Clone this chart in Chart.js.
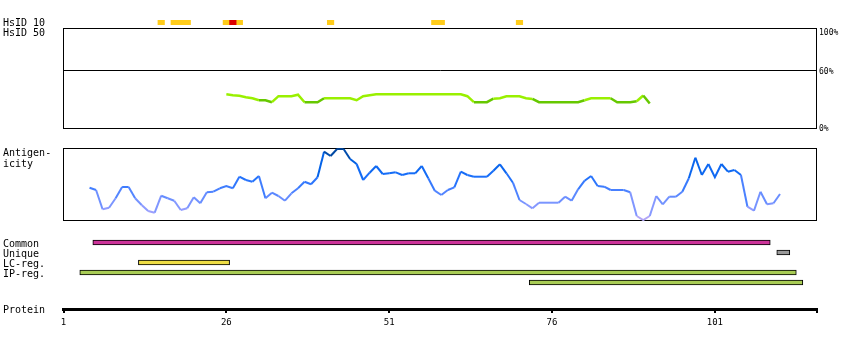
<!DOCTYPE html>
<html><head><meta charset="utf-8">
<script src="https://cdn.jsdelivr.net/npm/chart.js@4.4.1/dist/chart.umd.min.js"></script>
<style>
html,body{margin:0;padding:0;background:#fff;}
body{width:850px;height:350px;overflow:hidden;position:relative;font-family:"DejaVu Sans Mono",monospace;}
canvas{position:absolute;left:0;top:0;}
.lbl{position:absolute;font-size:10px;line-height:10px;color:#000;white-space:pre;}
.rl{position:absolute;font-size:8px;line-height:8px;color:#000;white-space:pre;}
</style></head><body>
<canvas id="cBlocks" width="850" height="350"></canvas>
<canvas id="cIdent" width="850" height="350"></canvas>
<canvas id="cAnti" width="850" height="350"></canvas>
<canvas id="cFeat" width="850" height="350"></canvas>
<canvas id="cAxis" width="850" height="350"></canvas>
<div class="lbl" style="left:3px;top:18px">HsID 10</div>
<div class="lbl" style="left:3px;top:28px">HsID 50</div>
<div class="lbl" style="left:3px;top:148px">Antigen-</div>
<div class="lbl" style="left:3px;top:159px">icity</div>
<div class="lbl" style="left:3px;top:238.5px">Common</div>
<div class="lbl" style="left:3px;top:248.5px">Unique</div>
<div class="lbl" style="left:3px;top:258.5px">LC-reg.</div>
<div class="lbl" style="left:3px;top:268.5px">IP-reg.</div>
<div class="lbl" style="left:3px;top:305px">Protein</div>
<div class="rl" style="left:819px;top:29px">100%</div>
<div class="rl" style="left:819px;top:67.5px">60%</div>
<div class="rl" style="left:819px;top:125px">0%</div>
<script>
// ---------- data ----------
const residueMin = 1;
const residueMax = 116.6;
const axisTickValues = [1, 26, 51, 76, 101, 116.6];
const axisTickLabels = ['1', '26', '51', '76', '101', ''];

// HsID 10 hits (residue ranges, inclusive)
const hsidYellowRanges = [[16,16],[18,20],[26,28],[42,42],[58,59],[71,71]];
const hsidRedRanges = [[27,27]];

// HsID 50 identity (%) per residue, starting at residue 26
const identityStart = 26;
const identityValues = [
  34.3,33.3,32.8,31.3,30.3,28.3,28.3,26.3,32.3,32.3,
  32.3,33.8,26.3,26.3,26.3,30.3,30.3,30.3,30.3,30.3,
  28.3,32.3,33.3,34.3,34.3,34.3,34.3,34.3,34.3,34.3,
  34.3,34.3,34.3,34.3,34.3,34.3,34.3,32.3,26.3,26.3,
  26.3,29.8,30.3,32.3,32.3,32.3,30.3,29.6,26.3,26.3,
  26.3,26.3,26.3,26.3,26.3,28.3,30.3,30.3,30.3,30.3,
  26.3,26.3,26.3,27.3,33.0,25.0
];
const identityGridValue = 58;

// Antigenicity per residue, starting at residue 5
const antigenStart = 5;
const antigenValues = [
  32.3,30,10.7,12.3,21.7,33,33,21.7,15,9,
  7.3,24.3,21.7,19.3,10,11.7,22.7,16.7,27.7,28.3,
  31.7,34,31.7,43.3,40,38.3,44,21.7,27.3,24,
  19.3,26.7,31.7,38.3,35.7,42.7,68.3,64,71,71,
  61,56,40,47.3,54,46,46.7,47.7,45,46.7,
  46.7,54,41.7,29.3,25,30,32.7,48.3,45,43.3,
  43.3,43.3,49.3,55.7,46.7,37.3,20,16,11.7,17.3,
  17.3,17.3,17.3,23.3,19.3,30.7,39.3,44,34,33.3,
  30,30,30,27.7,4,0,4,24,15.7,23.3,
  23.3,28.3,41.7,62.3,45,56,42.7,56,48.3,50,
  45,13.3,9.3,28.3,15.7,16.7,26
];

// Features
const featureRows = ['Common', 'Unique', 'LC-reg.', 'IP-reg.', 'IP-reg. (2)'];
const commonRange = [6, 109];
const uniqueRange = [111, 112];
const lcRange = [13, 26];
const ipRange1 = [4, 113];
const ipRange2 = [73, 114];

// ---------- styles ----------
const AREA_LEFT = 63.5, AREA_RIGHT = 816.5, W = 850, H = 350;
const FONT = '"DejaVu Sans Mono", monospace';
const antigenColorStops = [
  [0,[185,168,245]],[10,[150,158,255]],[20,[112,145,255]],[30,[72,128,255]],
  [45,[24,110,250]],[58,[0,96,228]],[66,[0,76,172]],[72,[0,62,138]]
];
function antigenColor(v){
  for (let i=1;i<antigenColorStops.length;i++){
    const [v1,c1]=antigenColorStops[i];
    const [v0,c0]=antigenColorStops[i-1];
    if (v<=v1 || i===antigenColorStops.length-1){
      const t=Math.max(0,Math.min(1,(v-v0)/(v1-v0)));
      const c=c0.map((a,k)=>Math.round(a+(c1[k]-a)*t));
      return `rgb(${c[0]},${c[1]},${c[2]})`;
    }
  }
}

const boxPlugin = {
  id: 'panelBox',
  beforeDatasetsDraw(chart) {
    const {ctx, chartArea:{left,top,right,bottom}} = chart;
    ctx.save();
    ctx.strokeStyle = '#000'; ctx.lineWidth = 1;
    ctx.strokeRect(left, top, right-left, bottom-top);
    ctx.restore();
  }
};

function pad(top, bottom){
  return {left: AREA_LEFT, right: W-AREA_RIGHT, top: top, bottom: H-bottom};
}
const baseOpts = {
  responsive:false, animation:false, events:[], devicePixelRatio:1,
  plugins:{legend:{display:false}, tooltip:{enabled:false}, title:{display:false}}
};
const xHidden = {type:'linear', min:residueMin, max:residueMax, display:false};
const toRange = (r) => [r[0]-0.5, r[1]+0.5];

// ---------- HsID blocks ----------
new Chart(document.getElementById('cBlocks'), {
  type:'bar',
  data:{ labels:['HsID 10'], datasets:[
    {data: hsidRedRanges.map(r=>({x:toRange(r), y:'HsID 10'})), backgroundColor:'#dd0000', borderWidth:0},
    {data: hsidYellowRanges.map(r=>({x:toRange(r), y:'HsID 10'})), backgroundColor:'#ffcc1a', borderWidth:0}
  ]},
  options:{...baseOpts, indexAxis:'y', layout:{padding:pad(20,25)},
    datasets:{bar:{grouped:false, barPercentage:1, categoryPercentage:1}},
    scales:{x:xHidden, y:{type:'category', display:false}}}
});

// ---------- HsID 50 identity ----------
new Chart(document.getElementById('cIdent'), {
  type:'line',
  data:{datasets:[{
    data: identityValues.map((v,i)=>({x:identityStart+i, y:v})),
    borderWidth:2.5, pointRadius:0, tension:0, clip:false,
    borderColor:'#99f000',
    segment:{borderColor: c => ((c.p0.parsed.y + c.p1.parsed.y)/2 < 29.1 ? '#66c800' : '#99f000')}
  }]},
  options:{...baseOpts, layout:{padding:pad(28.5,128.5)},
    scales:{
      x:xHidden,
      y:{type:'linear', min:0, max:100, display:true,
        afterBuildTicks: s => { s.ticks = [{value: identityGridValue}]; },
        afterFit: s => { s.width = 0; },
        ticks:{display:false},
        border:{display:false},
        grid:{color:'#000', lineWidth:1, drawTicks:false}
      }
    }},
  plugins:[boxPlugin]
});

// ---------- Antigenicity ----------
new Chart(document.getElementById('cAnti'), {
  type:'line',
  data:{datasets:[{
    data: antigenValues.map((v,i)=>({x:antigenStart+i, y:v})),
    borderWidth:2, pointRadius:0, tension:0, clip:false,
    borderColor:'#4080ff',
    segment:{borderColor: c => antigenColor((c.p0.parsed.y + c.p1.parsed.y)/2)}
  }]},
  options:{...baseOpts, layout:{padding:pad(148.5,220.5)},
    scales:{x:xHidden, y:{type:'linear', min:-0.5, max:71.5, display:false}}},
  plugins:[boxPlugin]
});

// ---------- Features ----------
new Chart(document.getElementById('cFeat'), {
  type:'bar',
  data:{ labels: featureRows, datasets:[
    {data:[{x:toRange(commonRange), y:featureRows[0]}], backgroundColor:'#cc3399'},
    {data:[{x:toRange(uniqueRange), y:featureRows[1]}], backgroundColor:'#999999'},
    {data:[{x:toRange(lcRange), y:featureRows[2]}], backgroundColor:'#eedd44'},
    {data:[{x:toRange(ipRange1), y:featureRows[3]},{x:toRange(ipRange2), y:featureRows[4]}], backgroundColor:'#a8cc55'}
  ]},
  options:{...baseOpts, indexAxis:'y', layout:{padding:pad(237.5,287.5)},
    datasets:{bar:{grouped:false, barThickness:5, borderWidth:1, borderColor:'#000', borderSkipped:false}},
    scales:{x:xHidden, y:{type:'category', display:false}}}
});

// ---------- Protein axis ----------
new Chart(document.getElementById('cAxis'), {
  type:'scatter',
  data:{datasets:[{data:[]}]},
  options:{...baseOpts, layout:{padding:{left:AREA_LEFT, right:W-AREA_RIGHT, top:300, bottom:0}},
    scales:{
      x:{type:'linear', min:residueMin, max:residueMax, position:'bottom',
        afterBuildTicks: s => { s.ticks = axisTickValues.map(v=>({value:v})); },
        afterFit: s => { s.height = 41; },
        border:{display:true, color:'#000', width:3},
        grid:{display:true, drawOnChartArea:false, drawTicks:true, tickLength:4, color:'#000', lineWidth:2},
        ticks:{color:'#000', font:{family:FONT, size:9}, padding:4, maxRotation:0, autoSkip:false,
          callback:(v, i) => axisTickLabels[i]}
      },
      y:{display:false}
    }}
});
</script>
</body></html>
